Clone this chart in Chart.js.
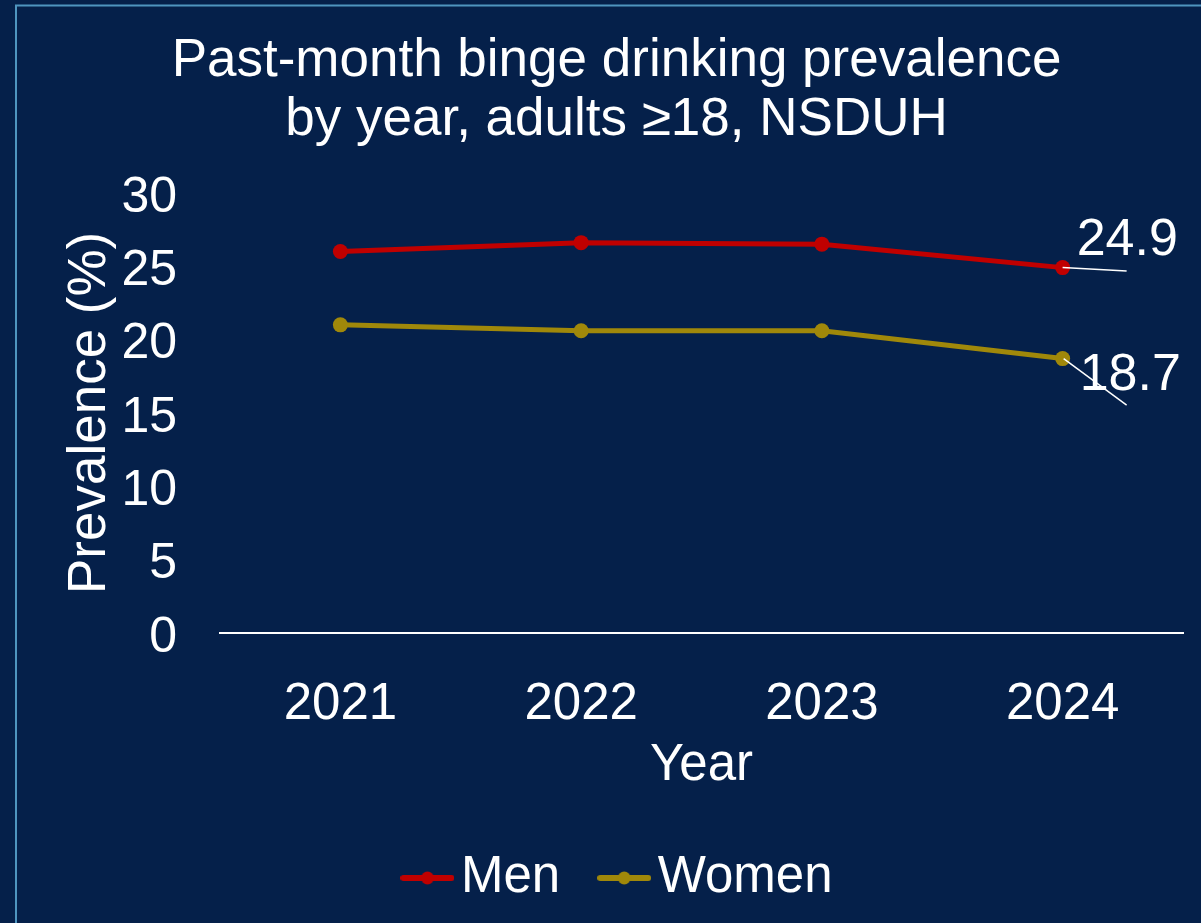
<!DOCTYPE html>
<html>
<head>
<meta charset="utf-8">
<script src="https://cdn.jsdelivr.net/npm/chart.js@4"></script>
<style>
  html, body { margin: 0; padding: 0; background: #05204A; }
  #wrap { width: 1201px; height: 923px; position: relative; }
</style>
</head>
<body>
<div id="wrap"><canvas id="c" width="1201" height="923"></canvas></div>
<script>
const years = ['2021', '2022', '2023', '2024'];
const menValues = [26.0, 26.6, 26.5, 24.9];
const womenValues = [21.0, 20.6, 20.6, 18.7];
const yTicks = [0, 5, 10, 15, 20, 25, 30];
const seriesNames = ['Men', 'Women'];
const titleLines = ['Past-month binge drinking prevalence', 'by year, adults \u226518, NSDUH'];

const FONT = '"Liberation Sans", Arial, Helvetica, sans-serif';
const BG = '#05204A';
const MEN_COLOR = '#C00000';
const WOMEN_COLOR = '#A0880A';

function legendIcon(color) {
  const cv = document.createElement('canvas');
  cv.width = 54; cv.height = 16;
  const g = cv.getContext('2d');
  g.strokeStyle = color; g.lineWidth = 6; g.lineCap = 'round';
  g.beginPath(); g.moveTo(3, 8); g.lineTo(51, 8); g.stroke();
  g.fillStyle = color;
  g.beginPath(); g.arc(27, 8, 6.5, 0, Math.PI * 2); g.fill();
  return cv;
}
const icons = [legendIcon(MEN_COLOR), legendIcon(WOMEN_COLOR)];

const bgPlugin = {
  id: 'bg',
  beforeDraw(chart) {
    const ctx = chart.ctx;
    ctx.save();
    ctx.fillStyle = BG;
    ctx.fillRect(0, 0, chart.width, chart.height);
    ctx.strokeStyle = '#4f95bf';
    ctx.lineWidth = 2;
    ctx.beginPath();
    ctx.moveTo(16, chart.height + 5);
    ctx.lineTo(16, 5.5);
    ctx.lineTo(chart.width + 5, 5.5);
    ctx.stroke();
    ctx.restore();
  },
  afterLayout(chart) {
    chart.legend.left += 9.5;
    chart.legend.right += 9.5;
  }
};

// label placement relative to the last point of each series
const lastLabelPlacement = [
  { dx: 14, dy: -26.6, lx0: 0, ly0: 0, lx: 64, ly: 3.5 },
  { dx: 17, dy: 17, lx0: 1, ly0: 0, lx: 64, ly: 46.5 }
];
const labelPlugin = {
  id: 'lastLabels',
  afterDatasetsDraw(chart) {
    const ctx = chart.ctx;
    chart.data.datasets.forEach((ds, i) => {
      const meta = chart.getDatasetMeta(i);
      const last = meta.data.length - 1;
      const pt = meta.data[last];
      const p = lastLabelPlacement[i];
      ctx.save();
      ctx.strokeStyle = '#ffffff';
      ctx.lineWidth = 1.5;
      ctx.beginPath();
      ctx.moveTo(pt.x + p.lx0, pt.y + p.ly0);
      ctx.lineTo(pt.x + p.lx, pt.y + p.ly);
      ctx.stroke();
      ctx.fillStyle = '#ffffff';
      ctx.font = '52px ' + FONT;
      ctx.textAlign = 'left';
      ctx.textBaseline = 'middle';
      ctx.fillText(ds.data[last].toFixed(1), pt.x + p.dx, pt.y + p.dy);
      ctx.restore();
    });
  }
};

new Chart(document.getElementById('c'), {
  type: 'line',
  data: {
    labels: years,
    datasets: [
      {
        label: seriesNames[0], data: menValues,
        borderColor: MEN_COLOR, backgroundColor: MEN_COLOR,
        borderWidth: 5, pointRadius: 7.5, pointBorderWidth: 0,
        pointBackgroundColor: MEN_COLOR, tension: 0
      },
      {
        label: seriesNames[1], data: womenValues,
        borderColor: WOMEN_COLOR, backgroundColor: WOMEN_COLOR,
        borderWidth: 5, pointRadius: 7.5, pointBorderWidth: 0,
        pointBackgroundColor: WOMEN_COLOR, tension: 0
      }
    ]
  },
  options: {
    responsive: false,
    animation: false,
    devicePixelRatio: 1,
    layout: { padding: { left: 50, right: 18, top: 0, bottom: 9.5 } },
    plugins: {
      title: {
        display: true,
        text: titleLines,
        color: '#ffffff',
        font: { family: FONT, size: 53, weight: 'normal', lineHeight: 1.13 },
        padding: { top: 31, bottom: 42 }
      },
      legend: {
        display: true,
        position: 'bottom',
        labels: {
          color: '#ffffff',
          font: { family: FONT, size: 51 },
          usePointStyle: true,
          pointStyleWidth: 16,
          padding: 56,
          generateLabels(chart) {
            return chart.data.datasets.map((ds, i) => ({
              text: ds.label,
              fillStyle: ds.borderColor,
              strokeStyle: ds.borderColor,
              fontColor: '#ffffff',
              lineWidth: 0,
              pointStyle: icons[i],
              hidden: false,
              datasetIndex: i
            }));
          }
        }
      },
      tooltip: { enabled: false }
    },
    scales: {
      x: {
        type: 'category',
        offset: true,
        grid: { display: false, drawTicks: false },
        border: { display: true, color: '#ffffff', width: 2 },
        ticks: { color: '#ffffff', font: { family: FONT, size: 51 }, padding: 41, maxRotation: 0 },
        title: { display: true, text: 'Year', color: '#ffffff', font: { family: FONT, size: 51 }, padding: { top: 0, bottom: 0 } },
        afterFit(scale) { scale.height = 163.5; }
      },
      y: {
        min: 0, max: 30,
        grid: { display: false, drawTicks: false },
        border: { display: false },
        afterBuildTicks(scale) { scale.ticks = yTicks.map(v => ({ value: v })); },
        ticks: { color: '#ffffff', font: { family: FONT, size: 50 }, padding: 43, labelOffset: 5 },
        title: { display: true, text: 'Prevalence (%)', color: '#ffffff', font: { family: FONT, size: 53 }, padding: { top: 9, bottom: 0 } },
        afterFit(scale) { scale.width = 170; }
      }
    }
  },
  plugins: [bgPlugin, labelPlugin]
});
</script>
</body>
</html>
